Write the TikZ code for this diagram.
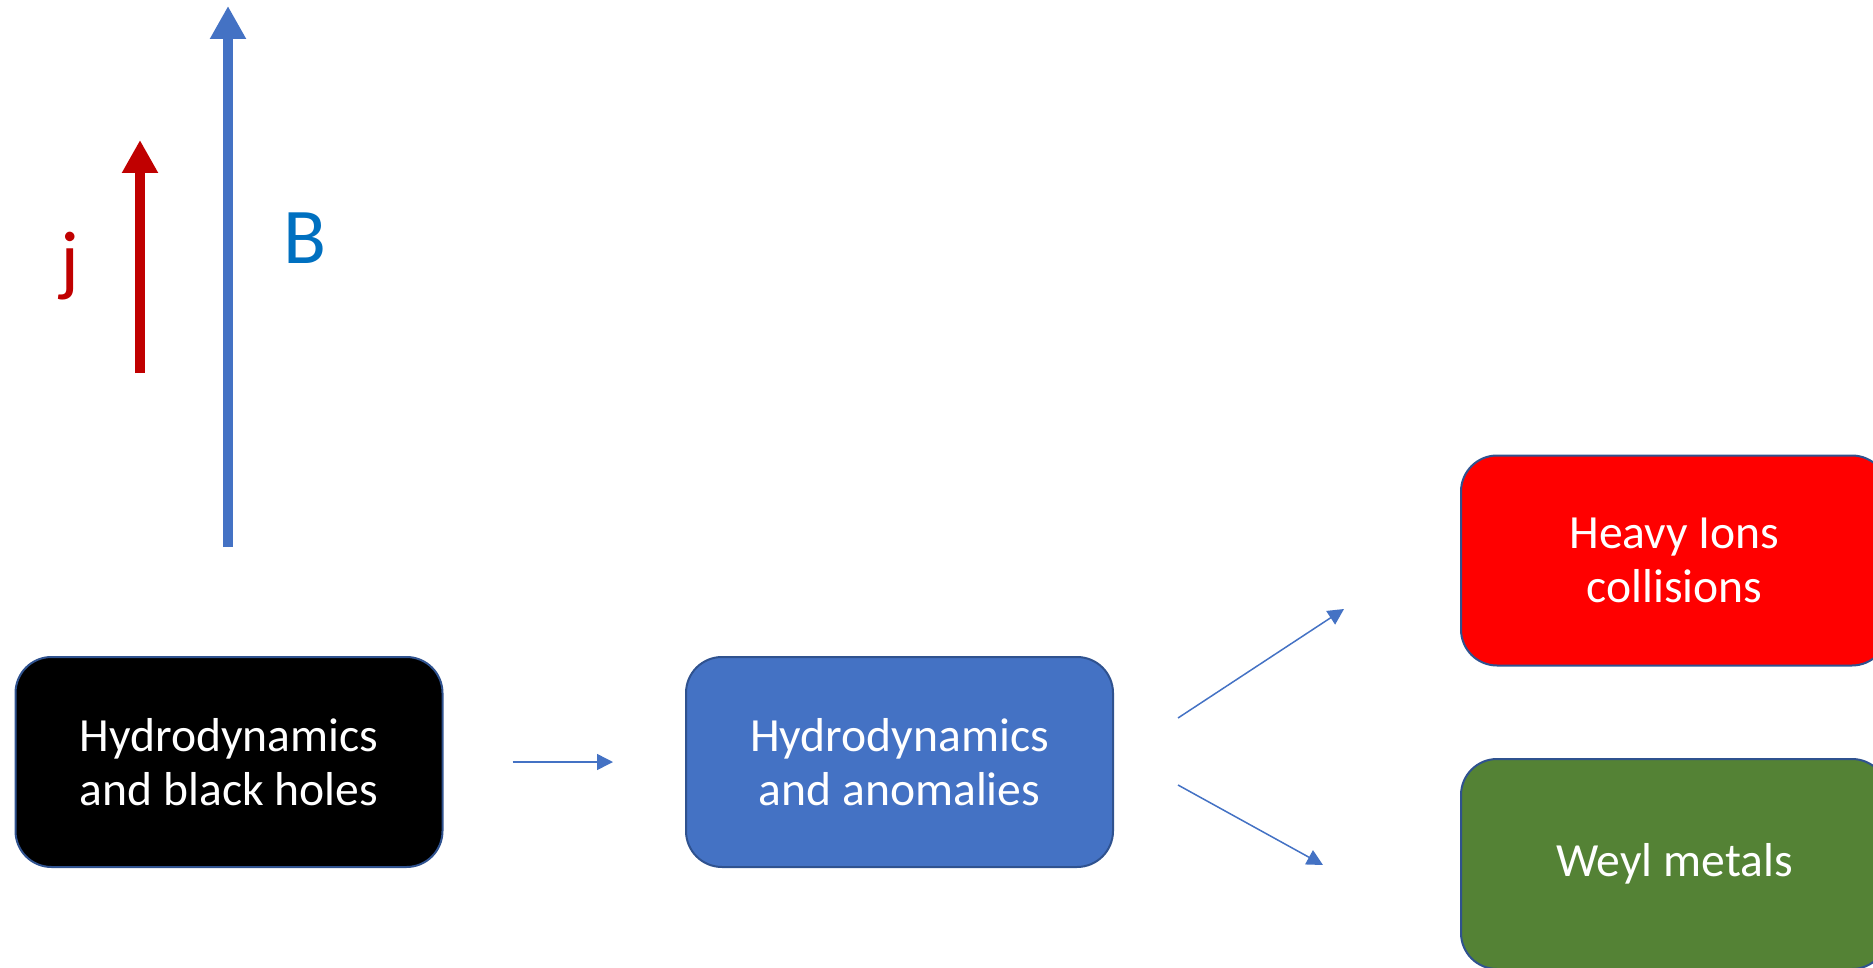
\documentclass[tikz,border=0pt]{standalone}
\usepackage{fontspec}
\setmainfont{Carlito}
\usetikzlibrary{arrows.meta}
\definecolor{boxline}{HTML}{2F528F}
\definecolor{acblue}{HTML}{4472C4}
\definecolor{acred}{HTML}{FF0000}
\definecolor{acgreen}{HTML}{548235}
\definecolor{jred}{HTML}{C00000}
\definecolor{bblue}{HTML}{0070C0}
\begin{document}
\begin{tikzpicture}[x=0.5pt,y=-0.5pt,
  boxnode/.style={draw=boxline, line width=1pt, rounded corners=18pt,
    minimum width=213.5pt, minimum height=105pt, text=white, align=center,
    font=\fontsize{23.8}{27.2}\selectfont, inner sep=0pt},
  flowarrow/.style={draw=acblue, line width=0.75pt, -{Triangle[length=8pt,width=8pt]}},
  fieldarrow/.style={line width=5pt, -{Triangle[length=16.5pt,width=17pt]}},
  fieldlabel/.style={font=\fontsize{39.5}{44}\selectfont, inner sep=0pt}]
\useasboundingbox (0,0) rectangle (1873,968);

% boxes
\node[boxnode, fill=black] (bh) at (229,762) {Hydrodynamics\\and black holes};
\node[boxnode, fill=acblue] (an) at (899.5,762) {Hydrodynamics\\and anomalies};
\node[boxnode, fill=acred] (hi) at (1674.5,560.5) {Heavy Ions\\collisions};
\node[boxnode, fill=acgreen] (wm) at (1674.5,864) {Weyl metals};

% field arrows
\coordinate (jtail) at (140,373);
\coordinate (jtip) at (140,140);
\coordinate (btail) at (228,547);
\coordinate (btip) at (228,6);
\draw[fieldarrow, draw=jred, fill=jred] (jtail) -- (jtip);
\draw[fieldarrow, draw=acblue, fill=acblue] (btail) -- (btip);
\node[fieldlabel, text=jred] (jl) at (70,266) {j};
\node[fieldlabel, text=bblue] (bl) at (305,238) {B};

% flow arrows
\draw[flowarrow, shorten <=34.5pt, shorten >=36pt] (bh.east) -- (an.west);
\coordinate (s1) at (1178,718);
\coordinate (e1) at (1344,609);
\coordinate (s2) at (1178,785);
\coordinate (e2) at (1323,865);
\draw[flowarrow] (s1) -- (e1);
\draw[flowarrow] (s2) -- (e2);
\end{tikzpicture}
\end{document}
